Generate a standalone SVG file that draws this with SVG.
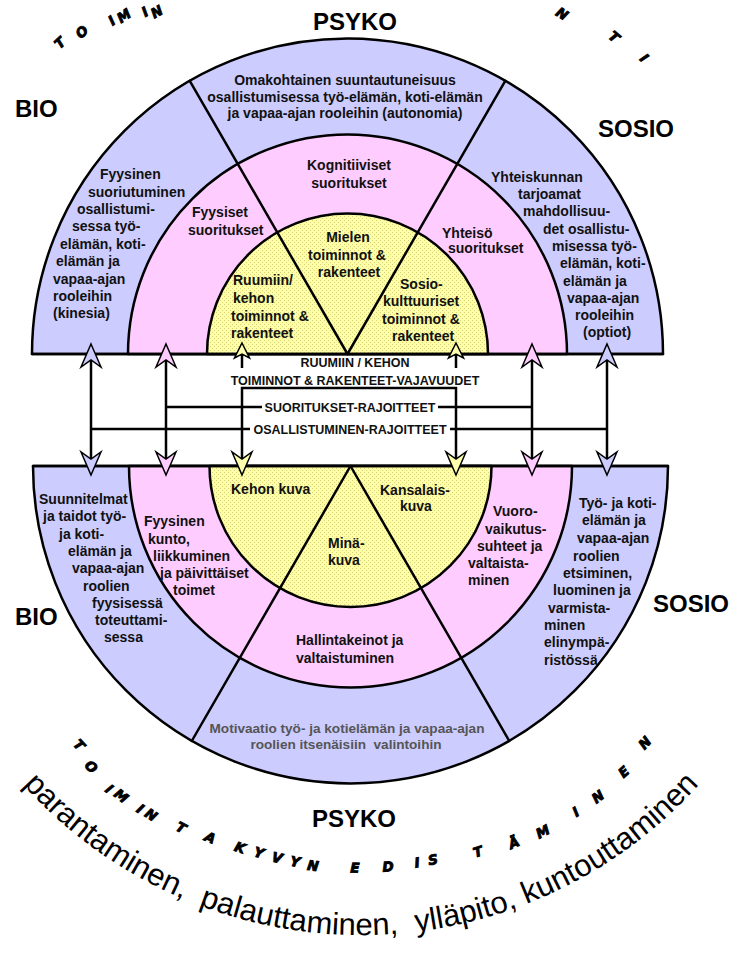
<svg xmlns="http://www.w3.org/2000/svg" width="744" height="961" viewBox="0 0 744 961">
<defs>
<pattern id="dots" width="4" height="4" patternUnits="userSpaceOnUse">
<rect width="4" height="4" fill="#FFFFA8"/>
<rect width="1" height="1" fill="#D8D27A"/>
<rect x="2" y="2" width="1" height="1" fill="#D8D27A"/>
</pattern>
<path id="hu" d="M0,-16 L10,7 L0,0 L-10,7 Z"/>
<path id="hd" d="M0,16 L10,-7 L0,0 L-10,-7 Z"/>
<path id="hs" d="M0,-11 L7.5,4 L0,0 L-7.5,4 Z"/>
<path id="arcBig" d="M -66.6 635.6 A 455 455 0 0 0 788.6 635.6"/>
</defs>
<style>
.ring{stroke:#000;stroke-width:2.5;stroke-linejoin:round}
.blue{fill:#CCCCFF}
.pink{fill:#FFCCFF}
.yel{fill:url(#dots)}
.div{stroke:#000;stroke-width:2.5;fill:none;stroke-linecap:round}
.t{font-family:"Liberation Sans",Arial,sans-serif;font-weight:bold;font-size:14px;fill:#111}
.c{text-anchor:middle}
.gray{fill:#555;font-size:13.6px}
.big{font-family:"Liberation Sans",Arial,sans-serif;font-weight:bold;font-size:24px;fill:#000}
.lab{font-family:"Liberation Sans",Arial,sans-serif;font-weight:bold;font-size:12.5px;fill:#111;text-anchor:middle}
.ln{stroke:#000;stroke-width:2.5;fill:none}
.hd{stroke:#000;stroke-width:1.5;stroke-linejoin:miter}
.ab{fill:#CCCCFF}
.ap{fill:#FFCCFF}
.ay{fill:#FFFFB0}
.arc{font-family:"DejaVu Sans","Liberation Sans",sans-serif;font-weight:bold;font-style:italic;font-size:13.5px;fill:#000;stroke:#000;stroke-width:0.9;text-anchor:middle}
.cur{font-family:"Liberation Sans",Arial,sans-serif;font-size:31px;fill:#000}
</style>
<rect width="744" height="961" fill="#fff"/>

<!-- top half -->
<g id="top-half">
<path class="ring blue" d="M 32 354 A 315.5 315.5 0 0 1 663 354 Z"/>
<path class="ring pink" d="M 128 354 A 219.5 219.5 0 0 1 567 354 Z"/>
<path class="ring yel" d="M 207 354 A 140.5 140.5 0 0 1 488 354 Z"/>
<line class="div" x1="347.5" y1="354" x2="189.75" y2="80.8"/>
<line class="div" x1="347.5" y1="354" x2="505.25" y2="80.8"/>
<line class="div" x1="32" y1="354" x2="663" y2="354" stroke-width="3"/>
</g>

<!-- bottom half -->
<g id="bottom-half">
<path class="ring blue" d="M 33 466 A 317.5 317.5 0 0 0 668 466 Z"/>
<path class="ring pink" d="M 129 466 A 221.5 221.5 0 0 0 572 466 Z"/>
<path class="ring yel" d="M 209.5 466 A 141 141 0 0 0 491.5 466 Z"/>
<line class="div" x1="350.5" y1="466" x2="191.75" y2="741"/>
<line class="div" x1="350.5" y1="466" x2="509.25" y2="741"/>
<line class="div" x1="33" y1="466" x2="668" y2="466" stroke-width="3"/>
</g>

<!-- top texts -->
<g id="node-autonomia">
<text class="t c" x="345" y="85">Omakohtainen suuntautuneisuus</text>
<text class="t c" x="345" y="102">osallistumisessa työ-elämän, koti-elämän</text>
<text class="t c" x="345" y="118">ja vapaa-ajan rooleihin (autonomia)</text>
</g>
<g id="node-kinesia">
<text class="t" x="100" y="179">Fyysinen</text>
<text class="t" x="88" y="197">suoriutuminen</text>
<text class="t" x="77" y="214">osallistumi-</text>
<text class="t" x="72" y="231">sessa työ-</text>
<text class="t" x="60" y="249">elämän, koti-</text>
<text class="t" x="56" y="266">elämän ja</text>
<text class="t" x="53" y="284">vapaa-ajan</text>
<text class="t" x="53" y="301">rooleihin</text>
<text class="t" x="53" y="318">(kinesia)</text>
</g>
<g id="node-optiot">
<text class="t" x="491" y="182">Yhteiskunnan</text>
<text class="t" x="518" y="199">tarjoamat</text>
<text class="t" x="523" y="216">mahdollisuu-</text>
<text class="t" x="543" y="234">det osallistu-</text>
<text class="t" x="552" y="251">misessa työ-</text>
<text class="t" x="560" y="268">elämän, koti-</text>
<text class="t" x="563" y="286">elämän ja</text>
<text class="t" x="567" y="303">vapaa-ajan</text>
<text class="t" x="575" y="320">rooleihin</text>
<text class="t" x="583" y="337">(optiot)</text>
</g>
<g id="node-kognitiiviset">
<text class="t c" x="349" y="170">Kognitiiviset</text>
<text class="t c" x="349" y="188">suoritukset</text>
</g>
<g id="node-fyysiset">
<text class="t" x="192" y="217">Fyysiset</text>
<text class="t" x="188" y="235">suoritukset</text>
</g>
<g id="node-yhteiso">
<text class="t" x="442" y="238">Yhteisö</text>
<text class="t" x="448" y="253">suoritukset</text>
</g>
<g id="node-mielen">
<text class="t c" x="348" y="242">Mielen</text>
<text class="t c" x="347" y="260">toiminnot &amp;</text>
<text class="t c" x="349" y="277">rakenteet</text>
</g>
<g id="node-ruumiin">
<text class="t" x="233" y="285">Ruumiin/</text>
<text class="t" x="233" y="303">kehon</text>
<text class="t" x="231" y="321">toiminnot &amp;</text>
<text class="t" x="231" y="338">rakenteet</text>
</g>
<g id="node-sosiokult">
<text class="t" x="400" y="289">Sosio-</text>
<text class="t" x="383" y="306">kulttuuriset</text>
<text class="t" x="382" y="324">toiminnot &amp;</text>
<text class="t" x="392" y="341">rakenteet</text>
</g>

<!-- bottom texts -->
<g id="node-suunnitelmat">
<text class="t" x="39" y="504">Suunnitelmat</text>
<text class="t" x="43" y="521">ja taidot työ-</text>
<text class="t" x="59" y="539">ja koti-</text>
<text class="t" x="68" y="556">elämän ja</text>
<text class="t" x="72" y="573">vapaa-ajan</text>
<text class="t" x="83" y="591">roolien</text>
<text class="t" x="92" y="608">fyysisessä</text>
<text class="t" x="95" y="625">toteuttami-</text>
<text class="t" x="104" y="642">sessa</text>
</g>
<g id="node-kunto">
<text class="t" x="144" y="526">Fyysinen</text>
<text class="t" x="148" y="544">kunto,</text>
<text class="t" x="153" y="561">liikkuminen</text>
<text class="t" x="160" y="578">ja päivittäiset</text>
<text class="t" x="173" y="595">toimet</text>
</g>
<g id="node-kehonkuva">
<text class="t" x="231" y="494">Kehon kuva</text>
</g>
<g id="node-kansalaiskuva">
<text class="t" x="380" y="495">Kansalais-</text>
<text class="t" x="400" y="511">kuva</text>
</g>
<g id="node-minakuva">
<text class="t" x="328" y="548">Minä-</text>
<text class="t" x="328" y="565">kuva</text>
</g>
<g id="node-vuorovaikutus">
<text class="t" x="493" y="516">Vuoro-</text>
<text class="t" x="485" y="534">vaikutus-</text>
<text class="t" x="477" y="551">suhteet ja</text>
<text class="t" x="468" y="568">valtaista-</text>
<text class="t" x="468" y="585">minen</text>
</g>
<g id="node-hallinta">
<text class="t" x="296" y="645">Hallintakeinot ja</text>
<text class="t" x="296" y="663">valtaistuminen</text>
</g>
<g id="node-roolit">
<text class="t" x="579" y="508">Työ- ja koti-</text>
<text class="t" x="582" y="525">elämän ja</text>
<text class="t" x="577" y="543">vapaa-ajan</text>
<text class="t" x="573" y="561">roolien</text>
<text class="t" x="563" y="578">etsiminen,</text>
<text class="t" x="553" y="595">luominen ja</text>
<text class="t" x="548" y="613">varmista-</text>
<text class="t" x="544" y="630">minen</text>
<text class="t" x="544" y="647">elinympä-</text>
<text class="t" x="544" y="665">ristössä</text>
</g>
<g id="node-motivaatio">
<text class="t c gray" x="347" y="733">Motivaatio työ- ja kotielämän ja vapaa-ajan</text>
<text class="t c gray" x="346" y="749" xml:space="preserve">roolien itsenäisiin  valintoihin</text>
</g>

<!-- big labels -->
<g id="labels">
<text class="big c" x="355" y="30">PSYKO</text>
<text class="big" x="15" y="117">BIO</text>
<text class="big" x="598" y="137">SOSIO</text>
<text class="big" x="15" y="625">BIO</text>
<text class="big" x="653" y="612">SOSIO</text>
<text class="big c" x="354" y="827">PSYKO</text>
</g>

<!-- connectors -->
<g id="connectors">
<line class="ln" x1="91" y1="358" x2="91" y2="460"/>
<line class="ln" x1="166" y1="358" x2="166" y2="460"/>
<line class="ln" x1="532" y1="358" x2="532" y2="460"/>
<line class="ln" x1="607" y1="358" x2="607" y2="460"/>
<line class="ln" x1="242" y1="352" x2="242" y2="368"/>
<line class="ln" x1="456" y1="352" x2="456" y2="368"/>
<polyline class="ln" points="242,460 242,388 456,388 456,460"/>
<line class="ln" x1="166" y1="407" x2="262" y2="407"/>
<line class="ln" x1="438" y1="407" x2="532" y2="407"/>
<line class="ln" x1="91" y1="429" x2="250" y2="429"/>
<line class="ln" x1="450" y1="429" x2="607" y2="429"/>
<use href="#hu" class="hd ab" x="91" y="360"/>
<use href="#hu" class="hd ap" x="166" y="360"/>
<use href="#hs" class="hd ay" x="242" y="354"/>
<use href="#hs" class="hd ay" x="456" y="354"/>
<use href="#hu" class="hd ap" x="532" y="360"/>
<use href="#hu" class="hd ab" x="607" y="360"/>
<use href="#hd" class="hd ab" x="91" y="459"/>
<use href="#hd" class="hd ap" x="166" y="459"/>
<use href="#hd" class="hd ay" x="242" y="459"/>
<use href="#hd" class="hd ay" x="456" y="459"/>
<use href="#hd" class="hd ap" x="532" y="459"/>
<use href="#hd" class="hd ab" x="607" y="459"/>
<text class="lab" x="355" y="367">RUUMIIN / KEHON</text>
<text class="lab" x="355" y="385">TOIMINNOT &amp; RAKENTEET-VAJAVUUDET</text>
<text class="lab" x="350" y="411.5">SUORITUKSET-RAJOITTEET</text>
<text class="lab" x="350" y="433.5">OSALLISTUMINEN-RAJOITTEET</text>
</g>

<!-- arc texts -->
<g id="arc-top">
<text class="arc" transform="translate(60,43) rotate(-43)" y="4.5">T</text>
<text class="arc" transform="translate(82,32) rotate(-40)" y="4.5">O</text>
<text class="arc" transform="translate(112,21) rotate(-36)" y="4.5">I</text>
<text class="arc" transform="translate(124,16) rotate(-34)" y="4.5">M</text>
<text class="arc" transform="translate(145,12) rotate(-31)" y="4.5">I</text>
<text class="arc" transform="translate(157,12) rotate(-30)" y="4.5">N</text>
<text class="arc" transform="translate(562,14) rotate(32)" y="4.5">N</text>
<text class="arc" transform="translate(614,37) rotate(40)" y="4.5">T</text>
<text class="arc" transform="translate(644,58) rotate(45)" y="4.5">I</text>
</g>
<g id="arc-edistaminen">
<text class="arc" transform="translate(79,745) rotate(47)" y="4.5">T</text>
<text class="arc" transform="translate(91,767) rotate(43.6)" y="4.5">O</text>
<text class="arc" transform="translate(109,789) rotate(39)" y="4.5">I</text>
<text class="arc" transform="translate(121,796) rotate(38)" y="4.5">M</text>
<text class="arc" transform="translate(140,809) rotate(34)" y="4.5">I</text>
<text class="arc" transform="translate(151,815) rotate(33)" y="4.5">N</text>
<text class="arc" transform="translate(181,828) rotate(27.5)" y="4.5">T</text>
<text class="arc" transform="translate(210,838) rotate(23.1)" y="4.5">A</text>
<text class="arc" transform="translate(240,848) rotate(18.4)" y="4.5">K</text>
<text class="arc" transform="translate(259,853) rotate(15.6)" y="4.5">Y</text>
<text class="arc" transform="translate(277,858) rotate(12.9)" y="4.5">V</text>
<text class="arc" transform="translate(295,862) rotate(10.1)" y="4.5">Y</text>
<text class="arc" transform="translate(313,866) rotate(7.4)" y="4.5">N</text>
<text class="arc" transform="translate(355,868) rotate(1)" y="4.5">E</text>
<text class="arc" transform="translate(388,867) rotate(-3.9)" y="4.5">D</text>
<text class="arc" transform="translate(417,863) rotate(-8.2)" y="4.5">I</text>
<text class="arc" transform="translate(433,860) rotate(-10.3)" y="4.5">S</text>
<text class="arc" transform="translate(478,852) rotate(-17.8)" y="4.5">T</text>
<text class="arc" transform="translate(514,843) rotate(-23.2)" y="4.5">Ä</text>
<text class="arc" transform="translate(543,832) rotate(-27.3)" y="4.5">M</text>
<text class="arc" transform="translate(576,812) rotate(-32.9)" y="4.5">I</text>
<text class="arc" transform="translate(598,797) rotate(-36.7)" y="4.5">N</text>
<text class="arc" transform="translate(624,772) rotate(-41.9)" y="4.5">E</text>
<text class="arc" transform="translate(645,743) rotate(-47.2)" y="4.5">N</text>
</g>
<g id="arc-toimenpiteet">
<text class="cur"><textPath href="#arcBig" startOffset="175">parantaminen,</textPath></text>
<text class="cur"><textPath href="#arcBig" startOffset="390">palauttaminen,</textPath></text>
<text class="cur"><textPath href="#arcBig" startOffset="611">ylläpito,</textPath></text>
<text class="cur"><textPath href="#arcBig" startOffset="725">kuntouttaminen</textPath></text>
</g>
</svg>
